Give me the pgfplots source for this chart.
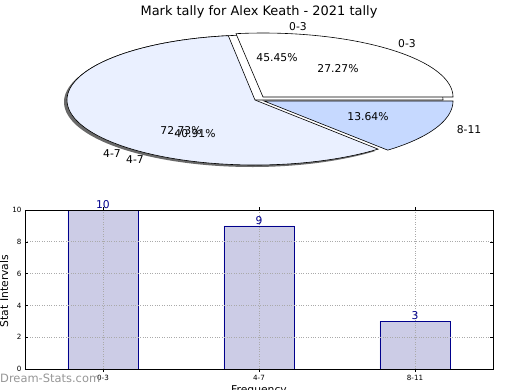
\documentclass[border=0pt]{standalone}
\usepackage{pgfplots}
\pgfplotsset{compat=1.18}
\usepackage{pgfplotstable}
\usepackage{fontspec}
\setmainfont{DejaVu Sans}
\definecolor{pieA}{RGB}{234,240,255}
\definecolor{pieB}{RGB}{198,217,255}
\definecolor{shad}{RGB}{105,105,105}
\definecolor{barfill}{RGB}{204,204,230}
\definecolor{navyc}{RGB}{0,0,140}
\definecolor{wm}{RGB}{150,150,150}
\definecolor{gridc}{RGB}{170,170,170}
\newcommand{\fs}[1]{\fontsize{#1}{#1}\selectfont}

% bar data
\pgfplotstableread{
cat value
0 10
1 9
2 3
}\bardata

% pie data (percent)
\def\pAa{27.27}\def\pAb{72.73}
\def\pBa{45.45}\def\pBb{40.91}\def\pBc{13.64}

% slice: fill, draw, cx, cy, rx, ry, start, end
\newcommand{\slice}[8]{%
  \addplot[fill=#1, draw=#2, line width=0.6bp, domain=#7:#8, samples=90]
    ({#3+#5*cos(x)}, {#4-#6*sin(x)}) -- (axis cs:#3,#4) -- cycle;}

\begin{document}
\begin{tikzpicture}
\path[use as bounding box] (0,0) rectangle (520bp,-390bp);

\pgfmathsetmacro{\aA}{3.6*\pAa}
\pgfmathsetmacro{\aB}{3.6*\pBa}
\pgfmathsetmacro{\aC}{3.6*(\pBa+\pBb)}

\begin{axis}[at={(0bp,-390bp)}, anchor=south west, scale only axis,
  width=520bp, height=390bp, xmin=0, xmax=520, ymin=0, ymax=390,
  y dir=reverse, hide axis, clip=false]
  % shadow
  \slice{shad}{none}{252}{102}{188}{65}{\aA}{\aC}
  % underlying 0-3 slice
  \slice{white}{black}{255}{100}{188}{65}{0}{\aB}
  % 4-7
  \slice{pieA}{black}{255}{100}{188}{65}{\aA}{\aC}
  % 8-11
  \slice{pieB}{black}{264}{101}{189}{65}{\aC}{360}
  % 0-3 exploded
  \slice{white}{black}{263}{97}{190}{64}{0}{\aA}

  \node[font=\fs{13}, anchor=base] at (axis cs:259,15) {Mark tally for Alex Keath - 2021 tally};
  \begin{scope}[every node/.style={font=\fs{10.8}, anchor=center, inner sep=0pt}]
  \node at (axis cs:298,27) {0-3};
  \node at (axis cs:407,44) {0-3};
  \node at (axis cs:277,58) {45.45\%};
  \node at (axis cs:338,69) {27.27\%};
  \node at (axis cs:368,117) {13.64\%};
  \node at (axis cs:469,130) {8-11};
  \node at (axis cs:181,131) {72.73\%};
  \node at (axis cs:195,134) {40.91\%};
  \node at (axis cs:112,154) {4-7};
  \node at (axis cs:135,160) {4-7};
  \end{scope}
  \node[font=\fs{10.8}, anchor=center, rotate=90, inner sep=0pt] at (axis cs:4,291) {Stat Intervals};
  \node[font=\fs{10.8}, anchor=base, inner sep=0pt] at (axis cs:259,393) {Frequency};
\end{axis}

\begin{axis}[at={(25bp,-369bp)}, anchor=south west, scale only axis,
  width=468bp, height=159bp,
  xmin=-0.5, xmax=2.5, ymin=0, ymax=10,
  xtick={0,1,2}, xticklabels={0-3,4-7,8-11}, ytick={0,2,4,6,8,10},
  xmajorgrids, ymajorgrids,
  grid style={gridc, line width=0.8bp, dash pattern=on 0.8bp off 1.6bp},
  axis on top,
  major tick length=3bp, tick style={black, line width=0.5bp},
  tick label style={font=\fs{7.2}},
  /pgf/number format/assume math mode=true,
  axis line style={line width=0.8bp},
  ybar, bar width=0.45,
  nodes near coords,
  nodes near coords style={font=\fs{10.8}, text=navyc, inner sep=0.8bp},
]
\addplot[fill=barfill, draw=navyc, line width=0.8bp] table[x=cat, y=value]{\bardata};
\end{axis}

\node[font=\fs{11.5}, text=wm, anchor=base west, inner sep=0pt] at (0bp,-382.5bp) {Dream-Stats.com};
\end{tikzpicture}
\end{document}
